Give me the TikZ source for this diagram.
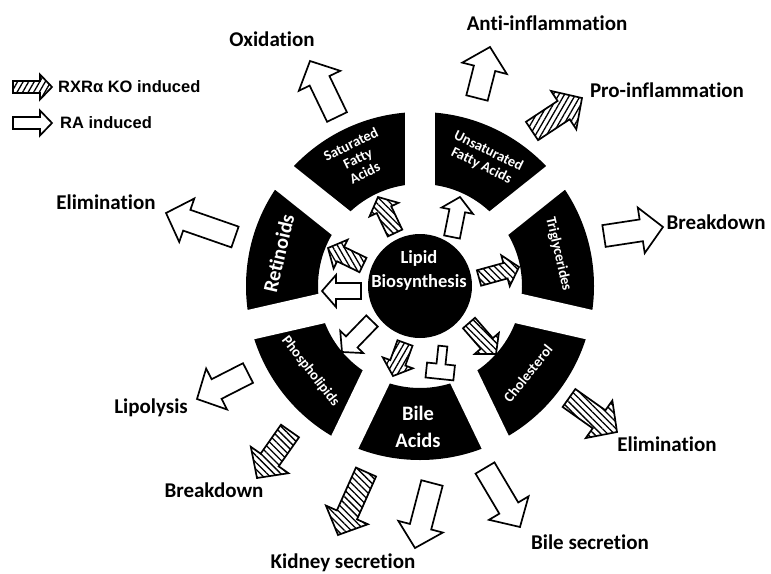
\documentclass[tikz,border=0pt]{standalone}
\usepackage{fontspec}
\setmainfont{Carlito}[Ligatures=NoCommon]
\newfontfamily\legfont{Liberation Sans}
\usetikzlibrary{calc,patterns.meta}

% #1 style, #2 tail coordinate, #3 tip coordinate, #4 shaft half width, #5 head half width, #6 head length
\newcommand\fatarrow[6]{%
  \coordinate (hb) at ($(#3)!#6!(#2)$);
  \draw[#1] ($(#2)!#4!90:(#3)$) -- ($(hb)!#4!90:(#3)$) -- ($(hb)!#5!90:(#3)$) -- (#3)
    -- ($(hb)!#5!-90:(#3)$) -- ($(hb)!#4!-90:(#3)$) -- ($(#2)!#4!-90:(#3)$) -- cycle;}

\begin{document}
\begin{tikzpicture}[x=1pt,y=1pt,
  lbl/.style={font=\bfseries\fontsize{21}{24}\selectfont, inner sep=0pt},
  seclbl/.style={text=white, font=\bfseries\fontsize{14.5}{16}\selectfont, align=center, inner sep=0pt},
  bigseclbl/.style={text=white, font=\bfseries\fontsize{20.5}{27}\selectfont, align=center, inner sep=0pt},
  legtext/.style={font=\legfont\bfseries\fontsize{16.5}{18}\selectfont, anchor=west, inner sep=0pt},
  openarr/.style={draw=black, fill=white, line width=1.7pt, line join=miter},
  hatcharr/.style={draw=black, line width=1.7pt, line join=miter,
    pattern={Lines[angle=#1,distance=4.8pt,line width=1.3pt]}},
]
\useasboundingbox (0,0) rectangle (771,-573);
\fill[white] (0,0) rectangle (771,-573);

% ring of sectors
\coordinate (C) at (420,-286);
\fill[black, even odd rule] (C) circle (174) (C) circle (102);
\foreach \a in {90,141.43,192.86,244.29,295.71,347.14,38.57}
  \draw[white, line width=30pt] ($(C)+(\a:92)$) -- ($(C)+(\a:186)$);

% centre
\node[circle, fill=black, minimum size=104pt, inner sep=0pt] (lb) at (C) {};
\node[text=white, font=\bfseries\fontsize{18.5}{24}\selectfont, align=center, inner sep=0pt]
  (lbt) at (419,-270) {Lipid\\Biosynthesis};

% sector labels
\node[seclbl, rotate=26]  (sat)  at ($(C)+(116:142)$) {Saturated\\Fatty\\Acids};
\node[seclbl, rotate=-26] (uns)  at ($(C)+(63:143)$)  {Unsaturated\\Fatty Acids};
\node[seclbl, rotate=-77] (tri)  at ($(C)+(13:142)$)  {Triglycerides};
\node[seclbl, rotate=51]  (cho)  at ($(C)+(-39:139)$) {Cholesterol};
\node[seclbl, rotate=-52] (pho)  at ($(C)+(218:139)$) {Phospholipids};
\node[bigseclbl]          (bil)  at (418,-427)        {Bile\\Acids};
\node[bigseclbl, rotate=77] (ret) at ($(C)+(167:145)$) {Retinoids};

% inner arrows
\coordinate (a1t) at (395,-233); \coordinate (a1h) at (378,-197);
\coordinate (a2t) at (452,-237); \coordinate (a2h) at (460,-197);
\coordinate (a3t) at (363,-265); \coordinate (a3h) at (328,-248);
\coordinate (a4t) at (361,-291); \coordinate (a4h) at (322,-291);
\coordinate (a5t) at (479,-278); \coordinate (a5h) at (519,-267);
\coordinate (a6t) at (469,-323); \coordinate (a6h) at (496,-354);
\coordinate (a7t) at (405,-343); \coordinate (a7h) at (393,-376);
\coordinate (a9t) at (372,-321); \coordinate (a9h) at (342,-352);
\fatarrow{hatcharr=135}{a1t}{a1h}{8pt}{16pt}{14pt}
\fatarrow{openarr}{a2t}{a2h}{8pt}{16pt}{14pt}
\fatarrow{hatcharr=120}{a3t}{a3h}{8pt}{16pt}{14pt}
\fatarrow{openarr}{a4t}{a4h}{8pt}{16pt}{14pt}
\fatarrow{hatcharr=135}{a5t}{a5h}{8pt}{16pt}{14pt}
\fatarrow{hatcharr=135}{a6t}{a6h}{8pt}{16pt}{14pt}
\fatarrow{hatcharr=60}{a7t}{a7h}{8pt}{16pt}{14pt}
\fatarrow{openarr}{a9t}{a9h}{8pt}{16pt}{14pt}

% inhibition bar
\coordinate (tb) at (441,-364);
\draw[openarr, rotate around={-6:(tb)}]
  (436.5,-346) -- (445.5,-346) -- (445.5,-364) -- (455,-364) -- (455,-379)
  -- (427,-379) -- (427,-364) -- (436.5,-364) -- cycle;

% outer arrows
\coordinate (b1t) at (337,-117);  \coordinate (b1h) at (310,-61);
\coordinate (b2t) at (477,-98);   \coordinate (b2h) at (490,-47);
\coordinate (b3t) at (532,-131);  \coordinate (b3h) at (582,-98);
\coordinate (b4t) at (235,-237);  \coordinate (b4h) at (166,-213);
\coordinate (b5t) at (604,-236);  \coordinate (b5h) at (663,-227);
\coordinate (b6t) at (248,-373);  \coordinate (b6h) at (197,-399);
\coordinate (b7t) at (290,-431);  \coordinate (b7h) at (257,-478);
\coordinate (b8t) at (366,-472);  \coordinate (b8h) at (338,-535);
\coordinate (b9t) at (432,-483);  \coordinate (b9h) at (415,-548);
\coordinate (b10t) at (485,-468); \coordinate (b10h) at (520,-527);
\coordinate (b11t) at (569,-398); \coordinate (b11h) at (617,-432);
\fatarrow{openarr}{b1t}{b1h}{11pt}{23pt}{22pt}
\fatarrow{openarr}{b2t}{b2h}{11pt}{23pt}{22pt}
\fatarrow{hatcharr=60}{b3t}{b3h}{11pt}{23pt}{22pt}
\fatarrow{openarr}{b4t}{b4h}{11pt}{23pt}{22pt}
\fatarrow{openarr}{b5t}{b5h}{11pt}{23pt}{22pt}
\fatarrow{openarr}{b6t}{b6h}{11pt}{23pt}{22pt}
\fatarrow{hatcharr=135}{b7t}{b7h}{11pt}{23pt}{22pt}
\fatarrow{hatcharr=135}{b8t}{b8h}{11pt}{23pt}{22pt}
\fatarrow{openarr}{b9t}{b9h}{11pt}{23pt}{22pt}
\fatarrow{openarr}{b10t}{b10h}{11pt}{23pt}{22pt}
\fatarrow{hatcharr=135}{b11t}{b11h}{11pt}{23pt}{22pt}

% outcome labels
\node[lbl] (ox)  at (272,-39)  {Oxidation};
\node[lbl] (ai)  at (547,-23)  {Anti-inflammation};
\node[lbl] (pi)  at (667,-90)  {Pro-inflammation};
\node[lbl] (el1) at (106,-202) {Elimination};
\node[lbl] (br1) at (716,-222) {Breakdown};
\node[lbl] (lip) at (151,-408) {Lipolysis};
\node[lbl] (el2) at (667,-444) {Elimination};
\node[lbl] (br2) at (214,-490) {Breakdown};
\node[lbl] (ks)  at (343,-563) {Kidney secretion};
\node[lbl] (bs)  at (590,-542) {Bile secretion};

% legend
\coordinate (l1t) at (13,-87);  \coordinate (l1h) at (52,-87);
\coordinate (l2t) at (13,-123); \coordinate (l2h) at (52,-123);
\fatarrow{hatcharr=60}{l1t}{l1h}{6pt}{12.5pt}{12pt}
\fatarrow{openarr}{l2t}{l2h}{6pt}{12.5pt}{12pt}
\node[legtext] (lg1) at (58,-87)  {RXRα KO induced};
\node[legtext] (lg2) at (60,-123) {RA induced};
\end{tikzpicture}
\end{document}
